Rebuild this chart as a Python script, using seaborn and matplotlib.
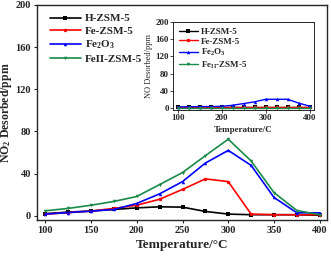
import matplotlib
matplotlib.use("Agg")
import matplotlib.pyplot as plt
import seaborn as sns
import pandas as pd

temps = [100, 125, 150, 175, 200, 225, 250, 275, 300, 325, 350, 375, 400]
series_names = ["H-ZSM-5", "Fe-ZSM-5", "Fe$_2$O$_3$", "FeII-ZSM-5"]
h_zsm5 = [2, 3.5, 4.5, 6, 7.5, 8.5, 8.2, 4.1, 1.6, 1, 1, 1, 0.5]
fe_zsm5 = [1.5, 3, 4.5, 7, 10, 15.7, 25, 35, 32.4, 1.6, 1, 1, 1]
fe2o3 = [1.6, 3, 4.4, 6, 11.7, 20.8, 32.4, 50, 62, 47.8, 17.4, 2.8, 2.8]
feii_zsm5 = [4.7, 7, 10, 13.6, 18.3, 29.6, 41, 57, 72.6, 52, 22, 5, 1]

inset_names = ["H-ZSM-5", "Fe-ZSM-5", "Fe$_2$O$_3$", "Fe$_{II}$-ZSM-5"]
in_h = [1, 1, 1, 1, 1, 1, 1, 1, 1, 1, 1, 1, 1]
in_fe = [2, 2, 2, 2, 2, 2, 2, 2, 2, 2, 2, 2, 2]
in_fe2o3 = [2, 2.5, 3, 3, 3.5, 6, 10, 14, 20, 20, 20, 11, 4]
in_feii = [0, 0, 0, 0, 0, 0, 0, 0, 0, 0, 0, 0, 0]

colors = ["black", "red", "blue", "#1a8a4a"]
markers = ["s", "o", "^", "v"]

def long_df(names, arrays):
    rows = []
    for n, arr in zip(names, arrays):
        for t, v in zip(temps, arr):
            rows.append({"T": t, "v": v, "s": n})
    return pd.DataFrame(rows)

sns.set_style("ticks")
plt.rcParams["font.family"] = ["Liberation Serif", "DejaVu Serif"]
plt.rcParams["font.weight"] = "bold"
plt.rcParams["mathtext.default"] = "regular"

fig = plt.figure(figsize=(3.31, 2.57), dpi=100)
ax = fig.add_axes([0.112, 0.144, 0.876, 0.837])
df = long_df(series_names, [h_zsm5, fe_zsm5, fe2o3, feii_zsm5])
sns.lineplot(data=df, x="T", y="v", hue="s", style="s", palette=colors,
             markers=markers, dashes=False, markersize=2.5, markeredgewidth=0,
             linewidth=1.2, ax=ax)
ax.set_xlim(91, 408)
ax.set_ylim(-4, 200)
ax.set_xticks([100, 150, 200, 250, 300, 350, 400])
ax.set_yticks([0, 40, 80, 120, 160, 200])
ax.tick_params(direction="out", length=2.5, width=0.8, labelsize=7.5, pad=2)
for lab in ax.get_xticklabels() + ax.get_yticklabels():
    lab.set_fontweight("bold")
ax.set_xlabel("Temperature/\u00b0C", fontsize=9.5, fontweight="bold", labelpad=3)
ax.set_ylabel("NO$_2$ Desorbed/ppm", fontsize=8.5, fontweight="bold")
ax.yaxis.set_label_coords(-0.078, 0.5)
for sp in ax.spines.values():
    sp.set_visible(True)
    sp.set_linewidth(1.0)
ax.legend(loc="upper left", bbox_to_anchor=(0.02, 0.99), frameon=False,
          handlelength=2.8, labelspacing=0.25, borderaxespad=0.2,
          handletextpad=0.4, prop={"weight": "bold", "size": 8})

ins = fig.add_axes([0.523, 0.572, 0.426, 0.342])
di = long_df(inset_names, [in_h, in_fe, in_fe2o3, in_feii])
sns.lineplot(data=di, x="T", y="v", hue="s", style="s", palette=colors,
             markers=markers, dashes=False, markersize=2.5, markeredgewidth=0,
             linewidth=1.0, ax=ins)
ins.set_xlim(90, 410)
ins.set_ylim(-5, 200)
ins.set_xticks([100, 200, 300, 400])
ins.set_yticks([0, 40, 80, 120, 160, 200])
ins.tick_params(direction="out", length=2, width=0.6, labelsize=6.5, pad=1)
for lab in ins.get_xticklabels() + ins.get_yticklabels():
    lab.set_fontweight("bold")
ins.set_xlabel("Temperature/C", fontsize=6.5, fontweight="bold", labelpad=3)
ins.set_ylabel("NO Desorbed/ppm", fontsize=6, labelpad=2)
for sp in ins.spines.values():
    sp.set_visible(True)
    sp.set_linewidth(0.7)
ins.legend(loc="upper left", bbox_to_anchor=(0.0, 1.0), frameon=False,
           handlelength=2.2, labelspacing=0.15, borderaxespad=0.2,
           handletextpad=0.3, prop={"weight": "bold", "size": 6.5})

fig.savefig("out.png", dpi=100)
